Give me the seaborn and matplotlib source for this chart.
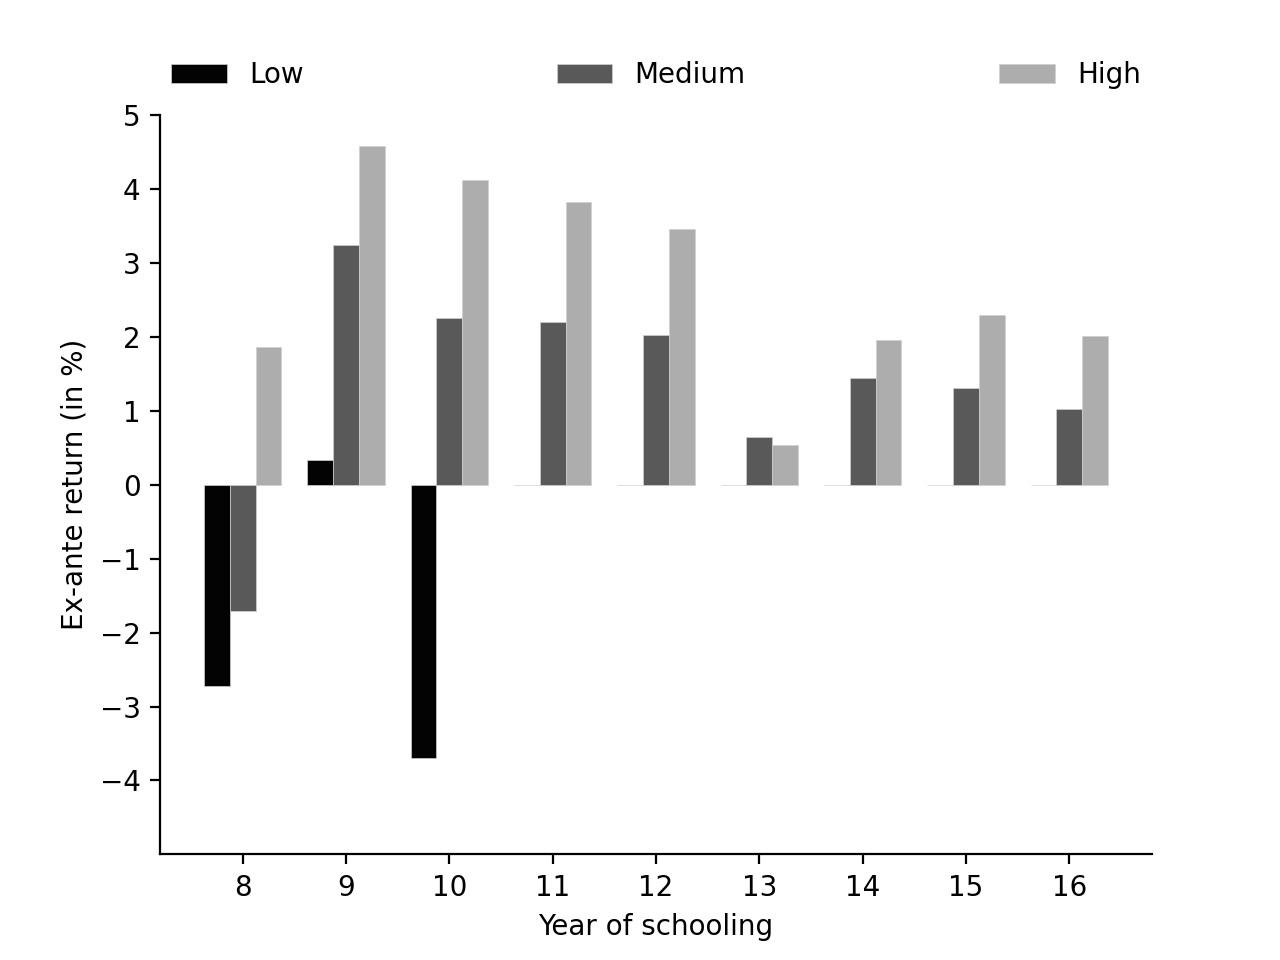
import pandas as pd
import seaborn as sns
import matplotlib.pyplot as plt

years = [8, 9, 10, 11, 12, 13, 14, 15, 16]
low = [-2.72, 0.34, -3.69, 0.0, 0.0, 0.0, 0.0, 0.0, 0.0]
medium = [-1.71, 3.25, 2.26, 2.20, 2.03, 0.64, 1.45, 1.31, 1.02]
high = [1.86, 4.59, 4.13, 3.82, 3.46, 0.54, 1.96, 2.30, 2.01]
groups = ['Low', 'Medium', 'High']
colors = ['#030303', '#595959', '#adadad']

df = pd.DataFrame({'year': years * 3,
                   'ret': low + medium + high,
                   'group': [g for g in groups for _ in years]})

# keep the plain matplotlib look (black text and ticks)
plt.rcParams['font.family'] = ['DejaVu Sans']
fig, ax = plt.subplots(figsize=(6.4, 4.8), dpi=200)
sns.barplot(data=df, x='year', y='ret', hue='group', hue_order=groups,
            palette=colors, width=0.75, edgecolor='#d0d0d0', linewidth=0.25,
            ax=ax)

ax.set_ylim(-5, 5)
ax.set_yticks(range(-4, 6))
ax.set_xlim(-0.8, 8.8)
ax.set_xlabel('Year of schooling')
ax.set_ylabel('Ex-ante return (in %)')
sns.despine(ax=ax)
ax.legend(bbox_to_anchor=(0, 1.02, 1, 0.102), loc='lower left', ncol=3,
          mode='expand', borderaxespad=0, frameon=False, title=None)
plt.savefig('out.png', dpi=200)
